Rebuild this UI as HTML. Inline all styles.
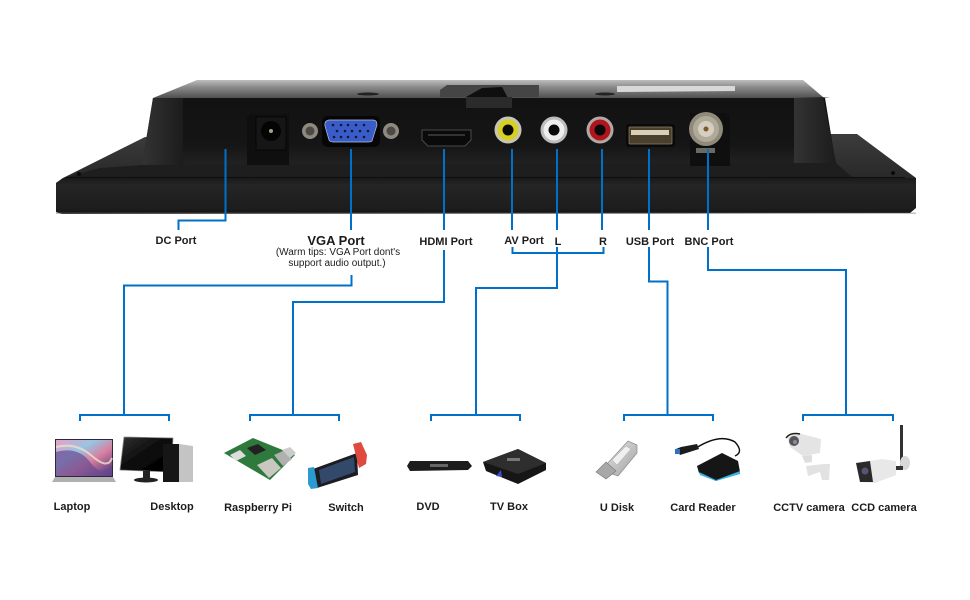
<!DOCTYPE html>
<html><head><meta charset="utf-8"><style>
html,body{margin:0;padding:0;background:#fff}
svg{display:block}
text{font-family:"Liberation Sans",sans-serif;font-weight:bold;fill:#1c1c1c;text-anchor:middle;font-size:11px}
</style></head><body>
<svg width="970" height="600" viewBox="0 0 970 600" xmlns="http://www.w3.org/2000/svg">
<defs>
<linearGradient id="top" x1="0" y1="0" x2="0" y2="1"><stop offset="0" stop-color="#bdbdbd"/><stop offset=".4" stop-color="#8a8a8a"/><stop offset="1" stop-color="#505050"/></linearGradient>
<linearGradient id="slab" x1="0" y1="0" x2="0" y2="1"><stop offset="0" stop-color="#1a1a1a"/><stop offset=".2" stop-color="#252525"/><stop offset=".85" stop-color="#1d1d1d"/><stop offset="1" stop-color="#121212"/></linearGradient>
<linearGradient id="panel" x1="0" y1="0" x2="0" y2="1"><stop offset="0" stop-color="#3c3c3c"/><stop offset="1" stop-color="#262626"/></linearGradient>
<linearGradient id="back" x1="0" y1="0" x2="0" y2="1"><stop offset="0" stop-color="#121212"/><stop offset=".7" stop-color="#151515"/><stop offset="1" stop-color="#222"/></linearGradient>
<linearGradient id="side" x1="0" y1="0" x2="1" y2="0"><stop offset="0" stop-color="#333"/><stop offset="1" stop-color="#1c1c1c"/></linearGradient>
<linearGradient id="wave" x1="0" y1="0" x2="1" y2="1"><stop offset="0" stop-color="#e8a0c4"/><stop offset=".35" stop-color="#98c4e4"/><stop offset=".6" stop-color="#d880a0"/><stop offset="1" stop-color="#40307a"/></linearGradient>
<linearGradient id="mon" x1="0" y1="0" x2="1" y2="1"><stop offset="0" stop-color="#333"/><stop offset=".5" stop-color="#0a0a0a"/><stop offset="1" stop-color="#000"/></linearGradient>
<linearGradient id="silver" x1="0" y1="0" x2="1" y2="1"><stop offset="0" stop-color="#e6e6e6"/><stop offset="1" stop-color="#a0a0a0"/></linearGradient>
<filter id="b"><feGaussianBlur stdDeviation=".5"/></filter>
<filter id="s"><feGaussianBlur stdDeviation=".35"/></filter>
</defs>

<!-- monitor -->
<polygon points="63,178 145,137 833,134 857,134 916,178 916,184 56,184 56,183" fill="url(#panel)"/>
<polygon points="153,98 197,80 803,80 823,97 830,98 153,98" fill="url(#top)"/>
<polygon points="153,98 825,98 836,165 142,165" fill="url(#back)"/>
<polygon points="153,98 183,98 183,165 142,165" fill="url(#side)"/>
<polygon points="794,98 823,97 836,163 794,163" fill="url(#side)"/>
<path d="M142,165 L836,163 L853,178 L63,178 L100,168Z" fill="#1e1e1e"/>
<path d="M56,183 L63,178 L916,178 L916,208 L910,213 L62,214 L56,212Z" fill="url(#slab)"/>
<rect x="56" y="212.500" width="860" height="1.500" fill="#777" opacity=".45"/>
<circle cx="79" cy="174" r="2" fill="#0a0a0a"/><circle cx="893" cy="173" r="2" fill="#0a0a0a"/>
<rect x="65" y="177" width="840" height="1" fill="#0e0e0e"/>

<!-- upper details -->
<ellipse cx="368" cy="94" rx="11" ry="1.500" fill="#222"/>
<ellipse cx="605" cy="94" rx="10" ry="1.500" fill="#222"/>
<polygon points="617,86 735,86 735,91 617,92" fill="#d8d8d8"/>
<polygon points="440,90 447,85 539,85 539,97 440,97" fill="#454545"/>
<polygon points="466,97 482,88 502,87 508,98 510,108 466,108" fill="#0f0f0f"/>
<rect x="466" y="97" width="46" height="11" fill="#2b2b2b"/>

<!-- DC -->
<path d="M247,165 V120 Q247,114 253,114 H289 V165Z" fill="#0f0f0f"/>
<rect x="256" y="117" width="30" height="33" fill="#161616" stroke="#060606"/>
<circle cx="271" cy="131" r="10" fill="#040404"/><circle cx="271" cy="131" r="2" fill="#a89f8a"/>
<!-- VGA -->
<rect x="322" y="116" width="58" height="31" rx="6" fill="#060606"/>
<path d="M329,120 H373 Q377,120 377,125 L372,141 Q371,142 368,142 H333 Q330,142 329,140 L325,126 Q324,121 329,120Z" fill="#3a5cc8" stroke="#b8c0d8" stroke-width=".7"/>
<g fill="#101838">
<circle cx="333" cy="125" r="1.300"/><circle cx="341" cy="125" r="1.300"/><circle cx="348" cy="125" r="1.300"/><circle cx="356" cy="125" r="1.300"/><circle cx="364" cy="125" r="1.300"/>
<circle cx="337" cy="131" r="1.300"/><circle cx="345" cy="131" r="1.300"/><circle cx="352" cy="131" r="1.300"/><circle cx="360" cy="131" r="1.300"/><circle cx="368" cy="131" r="1.300"/>
<circle cx="334" cy="137" r="1.300"/><circle cx="341" cy="137" r="1.300"/><circle cx="348" cy="137" r="1.300"/><circle cx="356" cy="137" r="1.300"/><circle cx="364" cy="137" r="1.300"/>
</g>
<circle cx="310" cy="131" r="8" fill="#8f8a80"/><circle cx="310" cy="131" r="4.500" fill="#4c4a45"/>
<circle cx="391" cy="131" r="8" fill="#8f8a80"/><circle cx="391" cy="131" r="4.500" fill="#4c4a45"/>
<!-- HDMI -->
<path d="M422,130 H471 V140 L465,146 H428 L422,140Z" fill="#0a0a0a" stroke="#4a4a4a" stroke-width="1"/>
<rect x="428" y="134" width="37" height="2" fill="#333"/>
<!-- RCA -->
<g>
<circle cx="508" cy="130" r="13.500" fill="#c8c4b8"/><circle cx="508" cy="130" r="10.500" fill="#d6d020"/><circle cx="508" cy="130" r="5.500" fill="#0a0a0a"/>
<circle cx="554" cy="130" r="13.500" fill="#bdbdbd"/><circle cx="554" cy="130" r="10.500" fill="#eeeeee"/><circle cx="554" cy="130" r="5.500" fill="#0a0a0a"/>
<circle cx="600" cy="130" r="13.500" fill="#b0aaa6"/><circle cx="600" cy="130" r="10.500" fill="#b0141c"/><circle cx="600" cy="130" r="5.500" fill="#0a0a0a"/>
</g>
<!-- USB -->
<rect x="626" y="124" width="49" height="23" rx="3" fill="#0a0a0a"/>
<rect x="629" y="127" width="43" height="17" rx="1" fill="#4a3f2c" stroke="#8a8068" stroke-width=".7"/>
<rect x="631" y="130" width="38" height="5" fill="#d8cfb4"/>
<!-- BNC -->
<path d="M690,113 H725 Q730,113 730,118 V166 H690Z" fill="#0f0f0f"/>
<circle cx="706" cy="129" r="17" fill="#8f8a7c"/><circle cx="706" cy="129" r="13" fill="#b0a998"/><circle cx="706" cy="129" r="8" fill="#d4cfc0"/><circle cx="706" cy="129" r="2.500" fill="#7a5a28"/>
<rect x="696" y="148" width="19" height="5" fill="#6a6a60"/>

<!-- connectors -->
<g fill="none" stroke="#0070c8" stroke-width="2">
<path d="M225.500,149 V220.500 H178.500 V230"/>
<path d="M351,149 V230"/><path d="M444,149 V230"/><path d="M512,149 V230"/><path d="M557,149 V230"/><path d="M602,149 V230"/><path d="M649,149 V230"/><path d="M708,149 V230"/>
<path d="M351.500,275 V285.500 H124 V414"/>
<path d="M444,250 V302 H293 V414"/>
<path d="M512.500,247 V253 H603.500 V247"/>
<path d="M557,247 V288 H476 V414"/>
<path d="M649,247 V281.500 H667.500 V414"/>
<path d="M708,247 V270 H846 V414"/>
<path d="M80,421 V415 H169 V421"/>
<path d="M250,421 V415 H339 V421"/>
<path d="M431,421 V415 H520 V421"/>
<path d="M624,421 V415 H713 V421"/>
<path d="M803,421 V415 H893 V421"/>
</g>

<!-- top labels -->
<text x="176" y="244">DC Port</text>
<text x="336" y="245" style="font-size:13px">VGA Port</text>
<text x="338" y="255" style="font-weight:normal;font-size:10px">(Warm tips: VGA Port dont's</text>
<text x="337" y="266" style="font-weight:normal;font-size:10px">support audio output.)</text>
<text x="446" y="245">HDMI Port</text>
<text x="524" y="244">AV Port</text>
<text x="558" y="245">L</text>
<text x="603" y="245">R</text>
<text x="650" y="245">USB Port</text>
<text x="709" y="245">BNC Port</text>

<!-- Laptop -->
<g filter="url(#s)">
<rect x="55" y="439" width="58" height="38" fill="#2a2a3a"/>
<rect x="56" y="440" width="56" height="36" fill="url(#wave)"/>
<path d="M56,452 Q78,446 90,462 T112,466 V476 H56Z" fill="#6a4a90" opacity=".7"/>
<path d="M56,447 Q76,442 92,456 T112,458" fill="none" stroke="#f0e0c8" stroke-width="2" opacity=".8"/>
<polygon points="55,477 113,477 116,482 52,482" fill="#b0b0b0"/>
</g>
<!-- Desktop -->
<g filter="url(#s)">
<polygon points="124,437 173,438 171,472 120,470" fill="url(#mon)" stroke="#888" stroke-width=".8"/>
<rect x="143" y="471" width="7" height="7" fill="#222"/>
<ellipse cx="146" cy="480" rx="12" ry="2.500" fill="#222"/>
<rect x="163" y="444" width="16" height="38" fill="#161616"/>
<polygon points="179,444 193,446 193,482 179,482" fill="#c4c4c4"/>
</g>
<!-- Raspberry -->
<g filter="url(#s)">
<polygon points="224,453 253,438 295,455 270,480" fill="#2e7a3c"/>
<polygon points="247,448 258,444 266,450 255,455" fill="#222"/>
<polygon points="257,465 272,458 281,468 269,478" fill="#c8c8c0"/>
<polygon points="274,455 283,451 292,459 283,466" fill="#b0b0b0"/>
<polygon points="282,450 290,447 296,453 290,458" fill="#ccc"/>
<polygon points="230,455 240,450 246,456 236,461" fill="#ddd"/>
</g>
<!-- Switch -->
<g filter="url(#s)">
<polygon points="313,469 357,453 358,475 317,488" fill="#1a1a20"/>
<polygon points="319,470 354,457 355,472 321,484" fill="#304a6a"/>
<polygon points="308,468 314,467 318,488 311,489 308,484" fill="#2a9ad0"/>
<polygon points="353,444 361,442 367,455 366,464 359,468" fill="#e04a3c"/>
</g>
<!-- DVD -->
<g filter="url(#s)">
<polygon points="410,461 468,461 472,466 468,470 410,471 407,466" fill="#1c1c1c"/>
<rect x="430" y="464" width="18" height="3" fill="#666"/>
</g>
<!-- TV box -->
<g filter="url(#s)">
<polygon points="483,462 518,449 546,463 546,470 518,484 486,471" fill="#161616"/>
<polygon points="483,462 518,449 546,463 518,474" fill="#2e2e2e"/>
<polygon points="496,476 501,470 502,477" fill="#3a50d0"/>
<rect x="507" y="458" width="13" height="3" fill="#777"/>
</g>
<!-- U Disk -->
<g filter="url(#s)">
<polygon points="606,465 628,441 637,445 637,453 618,476 606,472" fill="url(#silver)" stroke="#8a8a8a" stroke-width=".7"/>
<polygon points="612,460 626,446 631,449 617,465" fill="#f0f0f0" stroke="#aaa" stroke-width=".5"/>
<polygon points="596,472 606,462 616,471 606,479" fill="#a8a8a8" stroke="#777" stroke-width=".6"/>
</g>
<!-- Card Reader -->
<g filter="url(#s)">
<path d="M696,448 Q720,433 735,442 Q744,452 735,456" fill="none" stroke="#111" stroke-width="1.400"/>
<polygon points="676,449 681,447 697,444 699,449 680,455" fill="#1a1a1a"/>
<rect x="675" y="449" width="5" height="5" fill="#3070c0"/>
<polygon points="697,466 722,453 738,461 740,472 716,481 699,473" fill="#121212"/>
<polygon points="699,472 716,480 740,471 740,474 716,481 700,475" fill="#38b0e0"/>
</g>
<!-- CCTV -->
<g filter="url(#s)">
<polygon points="787,436 798,433 821,439 820,453 803,456 790,447" fill="#e4e4e4"/>
<circle cx="794" cy="441" r="5" fill="#555"/><circle cx="795" cy="442" r="2" fill="#88a"/>
<path d="M786,438 Q790,432 800,434" fill="none" stroke="#222" stroke-width="1.500"/>
<polygon points="802,456 812,455 812,462 805,463" fill="#ddd"/>
<polygon points="806,466 824,464 830,464 829,480 822,480 820,472 808,476" fill="#e2e2e2"/>
</g>
<!-- CCD -->
<g filter="url(#s)">
<rect x="900" y="425" width="3" height="43" fill="#333"/>
<ellipse cx="905" cy="463" rx="5" ry="7" fill="#d8d8d8"/>
<rect x="890" y="466" width="13" height="4" fill="#333"/>
<polygon points="856,463 882,459 896,461 896,475 875,483 860,482" fill="#e8e8e8"/>
<polygon points="856,463 870,461 873,482 860,482" fill="#2a2a2a"/>
<circle cx="865" cy="471" r="3.500" fill="#557"/>
</g>

<!-- bottom labels -->
<text x="72" y="510">Laptop</text>
<text x="172" y="510">Desktop</text>
<text x="258" y="511">Raspberry Pi</text>
<text x="346" y="511">Switch</text>
<text x="428" y="510">DVD</text>
<text x="509" y="510">TV Box</text>
<text x="617" y="511">U Disk</text>
<text x="703" y="511">Card Reader</text>
<text x="809" y="511">CCTV camera</text>
<text x="884" y="511">CCD camera</text>
</svg>
</body></html>
